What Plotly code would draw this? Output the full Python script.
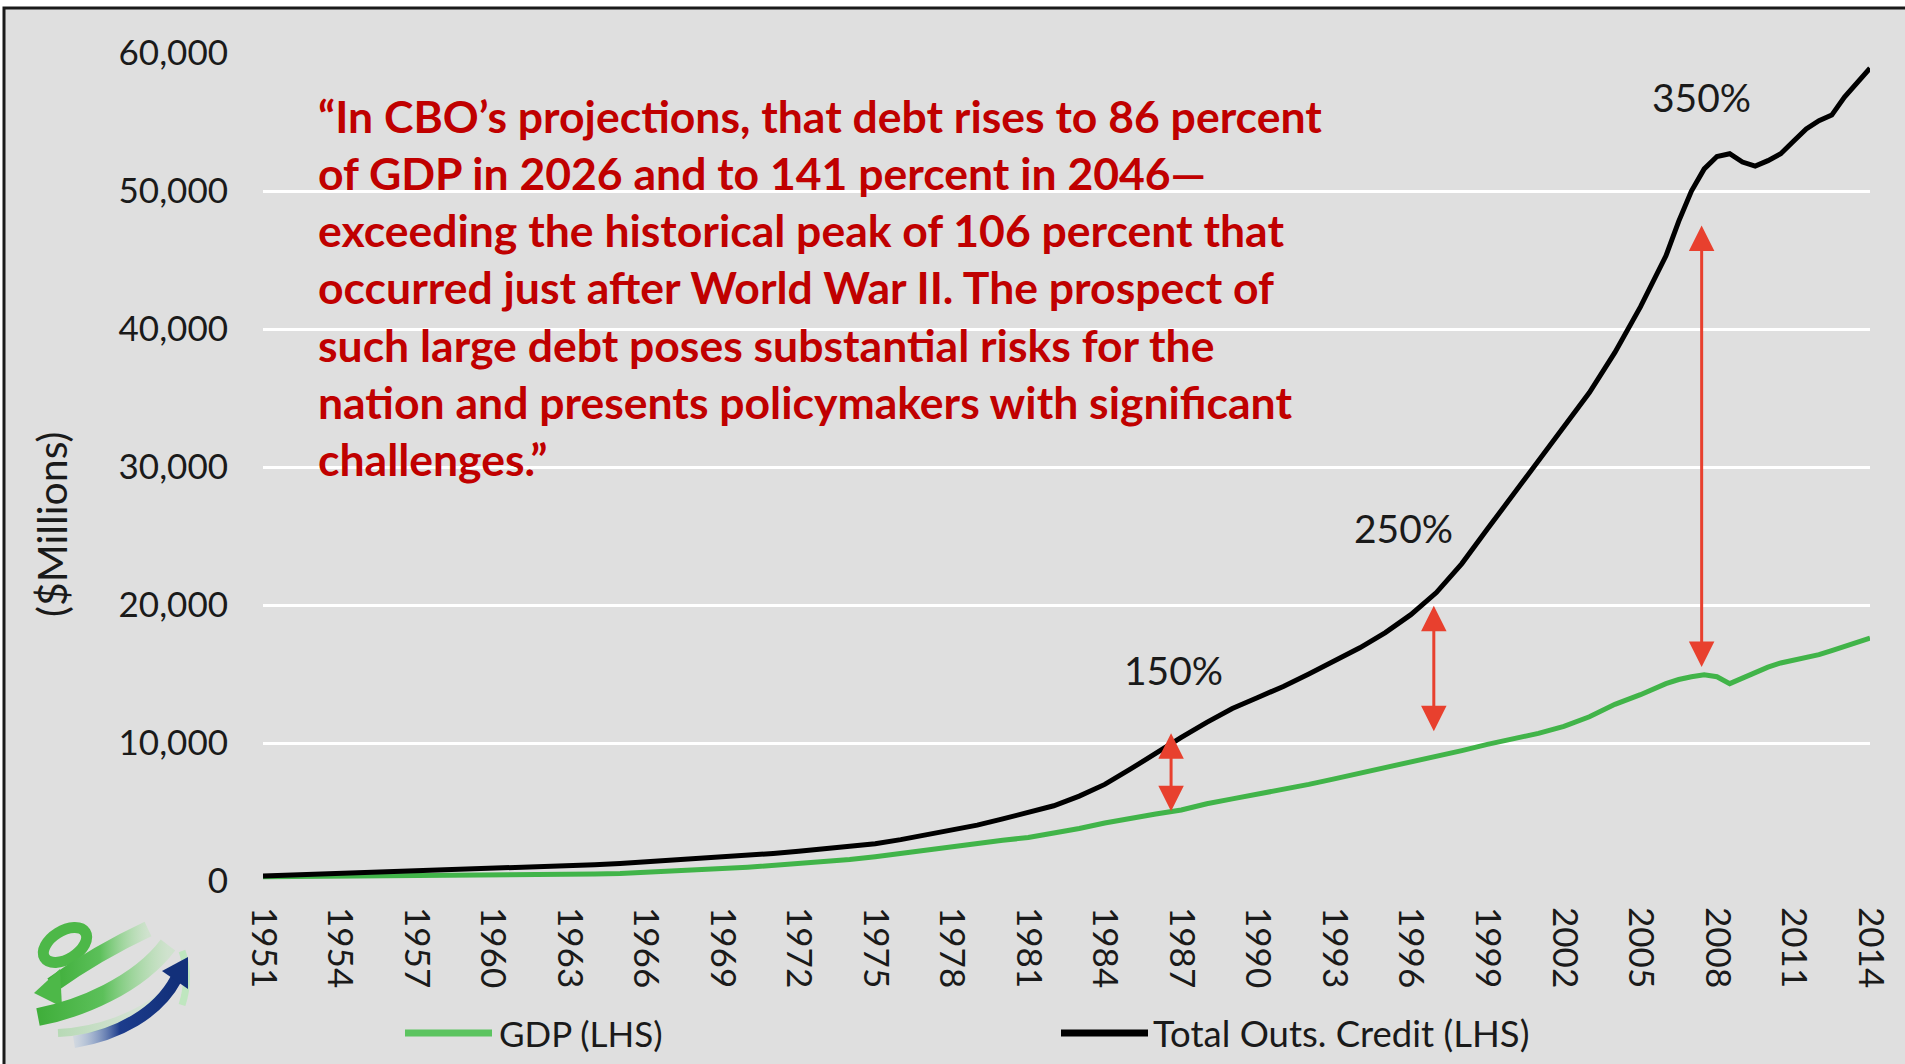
import base64
import plotly.graph_objects as go

# ---------------- data ----------------
years = [1951, 1952, 1953, 1954, 1955, 1956, 1957, 1958, 1959, 1960,
         1961, 1962, 1963, 1964, 1965, 1966, 1967, 1968, 1969, 1970,
         1971, 1972, 1973, 1974, 1975, 1976, 1977, 1978, 1979, 1980,
         1981, 1982, 1983, 1984, 1985, 1986, 1987, 1988, 1989, 1990,
         1991, 1992, 1993, 1994, 1995, 1996, 1997, 1998, 1999, 2000,
         2001, 2002, 2003, 2004, 2005, 2006, 2006.5, 2007, 2007.5, 2008,
         2008.5, 2009, 2009.5, 2010, 2010.5, 2011, 2011.5, 2012, 2012.5, 2013,
         2013.5, 2014]

credit = [360, 420, 480, 540, 620, 680, 720, 770, 820, 860,
          930, 1020, 1100, 1180, 1270, 1380, 1490, 1610, 1720, 1850,
          2000, 2150, 2330, 2480, 2700, 3000, 3350, 3700, 4050, 4500,
          4950, 5450, 6150, 7000, 8100, 9300, 10400, 11500, 12500, 13300,
          14100, 15000, 15900, 16900, 18000, 19300, 20900, 23000, 25500, 28000,
          30500, 32900, 35400, 38300, 41600, 45300, 47800, 50000, 51600, 52500,
          52700, 52100, 51800, 52200, 52700, 53600, 54500, 55100, 55500, 56800,
          57800, 58900]

gdp = [300, 310, 320, 330, 350, 360, 370, 380, 390, 400,
       420, 450, 480, 510, 550, 620, 700, 800, 900, 1000,
       1120, 1260, 1400, 1550, 1750, 2000, 2250, 2500, 2750, 2950,
       3150, 3450, 3800, 4200, 4550, 4850, 5150, 5600, 5950, 6300,
       6600, 7000, 7400, 7800, 8200, 8650, 9050, 9450, 9900, 10300,
       10700, 11200, 11900, 12800, 13500, 14300, 14600, 14800, 14950, 14800,
       14300, 14700, 15100, 15500, 15800, 16000, 16200, 16400, 16700, 17000,
       17250, 17600]

tick_years = [1951, 1954, 1957, 1960, 1963, 1966, 1969, 1972, 1975, 1978,
              1981, 1984, 1987, 1990, 1993, 1996, 1999, 2002, 2005, 2008,
              2011, 2014]
y_ticks = [0, 10000, 20000, 30000, 40000, 50000, 60000]

arrow_x = [1986.6, 1996.9, 2007.4]
arrow_top = [10700, 19950, 47500]
arrow_bottom = [4950, 10750, 15400]

pct_labels = ["150%", "250%", "350%"]
pct_x = [1986.7, 1995.7, 2007.4]
pct_y = [15300, 25600, 56800]

quote_lines = [
    "\u201cIn CBO\u2019s projections, that debt rises to 86 percent",
    "of GDP in 2026 and to 141 percent in 2046\u2014",
    "exceeding the historical peak of 106 percent that",
    "occurred just after World War II. The prospect of",
    "such large debt poses substantial risks for the",
    "nation and presents policymakers with significant",
    "challenges.\u201d",
]

series_names = ["GDP (LHS)", "Total Outs. Credit (LHS)"]
y_title = "($Millions)"

# ---------------- layout geometry ----------------
W, H = 1905, 1064
L, R, T, B = 263, 35, 53, 183
PW, PH = W - L - R, H - T - B


def xp(px):
    return (px - L) / PW


def yp(py):
    return (H - B - py) / PH


GREEN = "#41b449"
BLACK = "#000000"
RED = "#e8402e"
DARKRED = "#c00000"
BG = "#dfdfdf"
TXT = "#1a1a1a"
FONT = "Lato"

fig = go.Figure()
fig.add_trace(go.Scatter(x=years, y=gdp, mode="lines", name=series_names[0],
                         line=dict(color=GREEN, width=5), showlegend=False))
fig.add_trace(go.Scatter(x=years, y=credit, mode="lines", name=series_names[1],
                         line=dict(color=BLACK, width=5), showlegend=False))

annotations = []
# quote text
for i, line in enumerate(quote_lines):
    annotations.append(dict(
        text="<b>" + line + "</b>", xref="paper", yref="paper",
        x=xp(316), y=yp(115 + i * 57.3), xanchor="left", yanchor="middle",
        showarrow=False, font=dict(family=FONT, size=44.5, color=DARKRED)))

# double-headed arrows
for xa, yt, yb in zip(arrow_x, arrow_top, arrow_bottom):
    annotations.append(dict(
        x=xa, y=yt, ax=xa, ay=yb, xref="x", yref="y", axref="x", ayref="y",
        text="", showarrow=True, arrowside="end+start",
        arrowhead=2, startarrowhead=2, arrowsize=1.7, startarrowsize=1.7,
        arrowwidth=3, arrowcolor=RED, standoff=0, startstandoff=0))

# percent labels
for t, xa, ya in zip(pct_labels, pct_x, pct_y):
    annotations.append(dict(
        text=t, x=xa, y=ya, xref="x", yref="y", showarrow=False,
        font=dict(family=FONT, size=39, color=TXT)))

# y axis title
annotations.append(dict(
    text=y_title, xref="paper", yref="paper", x=xp(51), y=yp(525),
    textangle=-90, showarrow=False, xanchor="center", yanchor="middle",
    font=dict(family=FONT, size=41, color=TXT)))

# custom legend labels
legend_y = yp(1033)
annotations.append(dict(text=series_names[0], xref="paper", yref="paper",
                        x=xp(497), y=legend_y, xanchor="left", yanchor="middle",
                        showarrow=False, font=dict(family=FONT, size=35, color=TXT)))
annotations.append(dict(text=series_names[1], xref="paper", yref="paper",
                        x=xp(1151), y=legend_y, xanchor="left", yanchor="middle",
                        showarrow=False, font=dict(family=FONT, size=36.5, color=TXT)))

shapes = [
    # gray panel with black frame (top + left visible)
    dict(type="rect", xref="paper", yref="paper", x0=xp(4), x1=xp(1940),
         y0=yp(1100), y1=yp(8), fillcolor=BG, line=dict(color=TXT, width=3),
         layer="below"),
    # legend samples
    dict(type="line", xref="paper", yref="paper", x0=xp(405), x1=xp(492),
         y0=legend_y, y1=legend_y, line=dict(color="#5cc460", width=7)),
    dict(type="line", xref="paper", yref="paper", x0=xp(1061), x1=xp(1148),
         y0=legend_y, y1=legend_y, line=dict(color=BLACK, width=7)),
]

# logo (decorative, svg image)
svg = """<svg xmlns="http://www.w3.org/2000/svg" width="180" height="150" viewBox="0 0 180 150">
<defs>
<linearGradient id="g1" x1="0" y1="0" x2="1" y2="0">
<stop offset="0" stop-color="#3fae3a"/><stop offset="0.5" stop-color="#5cc05a"/><stop offset="1" stop-color="#b8e6b4" stop-opacity="0.4"/></linearGradient>
<linearGradient id="g3" x1="0" y1="0" x2="1" y2="0">
<stop offset="0" stop-color="#8fd48c" stop-opacity="0.5"/><stop offset="1" stop-color="#d0eecd" stop-opacity="0.3"/></linearGradient>
<linearGradient id="g2" x1="0" y1="0" x2="1" y2="0">
<stop offset="0" stop-color="#9bbbe0" stop-opacity="0.2"/><stop offset="0.45" stop-color="#1d3c8c"/><stop offset="1" stop-color="#12307a"/></linearGradient>
</defs>
<ellipse cx="47" cy="40" rx="24" ry="14" transform="rotate(-32 47 40)" fill="none" stroke="#4db848" stroke-width="11"/>
<path d="M 34 80 C 62 60 100 38 130 24" fill="none" stroke="url(#g1)" stroke-width="16"/>
<polygon points="16,88 42,64 44,102" fill="#4db848"/>
<path d="M 20 112 C 62 104 120 80 150 40" fill="none" stroke="url(#g1)" stroke-width="18"/>
<path d="M 40 128 C 80 126 120 112 150 86" fill="none" stroke="url(#g3)" stroke-width="8"/>
<path d="M 164 100 C 170 82 170 62 164 46" fill="none" stroke="#bfe6bf" stroke-width="7"/>
<path d="M 56 137 C 100 130 140 108 158 74" fill="none" stroke="url(#g2)" stroke-width="12"/>
<polygon points="170,52 144,66 170,84" fill="#12307a"/>
</svg>"""
logo_src = "data:image/svg+xml;base64," + base64.b64encode(svg.encode()).decode()

fig.update_layout(
    width=W, height=H, autosize=False,
    margin=dict(l=L, r=R, t=T, b=B, pad=0),
    paper_bgcolor="white", plot_bgcolor="rgba(0,0,0,0)",
    font=dict(family=FONT, size=35, color=TXT),
    showlegend=False,
    annotations=annotations, shapes=shapes,
    images=[dict(source=logo_src, xref="paper", yref="paper",
                 x=xp(18), y=yp(905), sizex=180 / PW, sizey=150 / PH,
                 xanchor="left", yanchor="top", sizing="stretch", layer="above")],
    xaxis=dict(range=[1951, 2014], tickvals=tick_years, ticktext=[str(v) for v in tick_years],
               tickangle=90, showgrid=False, zeroline=False, showline=False,
               ticks="", ticklabelstandoff=25,
               tickfont=dict(family=FONT, size=35, color=TXT)),
    yaxis=dict(range=[0, 60000], tickvals=y_ticks, tickformat=",d",
               showgrid=True, gridcolor="white", gridwidth=3, zeroline=False,
               showline=False, ticks="", ticklabelstandoff=34,
               tickfont=dict(family=FONT, size=35, color=TXT)),
)

fig.write_html("out.html", config={"displayModeBar": False},
               post_script="document.body.style.margin='0px';document.body.style.overflow='hidden';")
